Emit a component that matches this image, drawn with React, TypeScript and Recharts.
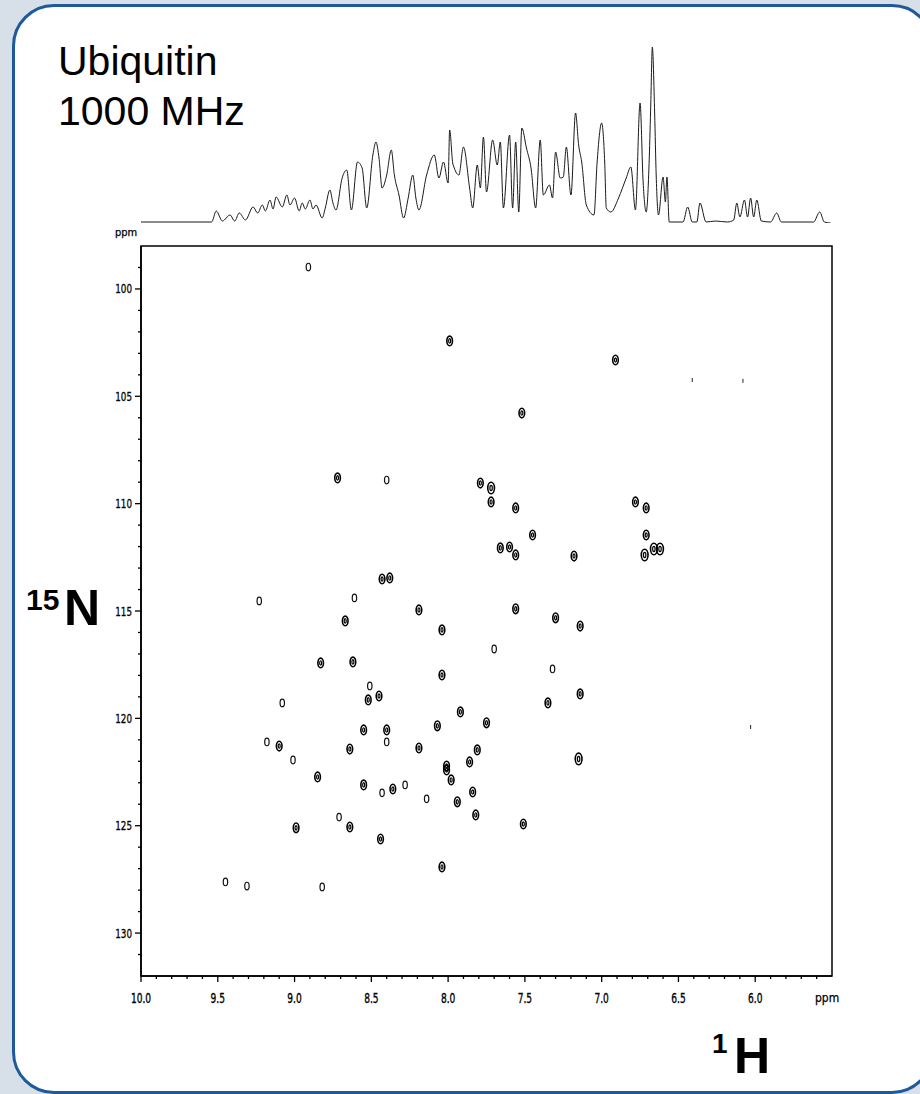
import { ScatterChart, Scatter, XAxis, YAxis, ReferenceArea, LineChart, Line } from 'recharts'

// 2D 1H-15N HSQC cross peaks (ppm)
const H_PPM = [
  8.91, 7.99, 6.91, 6.41, 6.08, 7.52, 8.72, 8.40, 7.79, 7.72,
  7.72, 7.56, 7.45, 7.66, 7.60, 7.56, 7.18, 6.78, 6.71, 6.71,
  6.72, 6.66, 6.62, 8.43, 8.38, 8.61, 9.23, 8.19, 8.67, 7.56,
  7.30, 7.14, 8.04, 7.70, 8.83, 8.62, 8.04, 7.32, 8.51, 8.52,
  8.45, 9.08, 7.14, 7.35, 7.92, 7.75, 8.07, 8.55, 8.40, 8.40,
  9.18, 9.10, 8.64, 8.19, 7.81, 9.01, 7.15, 8.01, 8.01, 7.86,
  7.98, 8.85, 8.55, 8.43, 8.36, 8.28, 7.84, 8.14, 7.94, 7.82,
  7.51, 8.71, 8.99, 8.64, 8.44, 8.04, 9.45, 9.31, 8.82, 6.03,
]
const N_PPM = [
  98.98, 102.42, 103.31, 104.24, 104.28, 105.78, 108.8, 108.9, 109.04, 109.27,
  109.92, 110.2, 111.46, 112.06, 112.02, 112.39, 112.44, 109.92, 110.2, 111.46,
  112.39, 112.11, 112.11, 113.51, 113.46, 114.39, 114.53, 114.95, 115.46, 114.9,
  115.32, 115.7, 115.88, 116.77, 117.42, 117.37, 117.98, 117.7, 118.49, 119.14,
  118.96, 119.28, 118.86, 119.28, 119.7, 120.21, 120.35, 120.54, 120.54, 121.1,
  121.1, 121.29, 121.43, 121.38, 121.47, 121.94, 121.89, 122.22, 122.4, 122.03,
  122.87, 122.73, 123.1, 123.47, 123.29, 123.1, 123.43, 123.75, 123.89, 124.5,
  124.92, 124.6, 125.1, 125.06, 125.62, 126.92, 127.62, 127.81, 127.85, 120.4,
]
// contour strength: 0 tiny, 1 weak, 2 normal, 3 strong
const PEAK_LEVEL = [
  1, 2, 2, 0, 0, 2, 2, 1, 2, 3,
  2, 2, 2, 2, 2, 2, 2, 2, 2, 2,
  3, 3, 3, 2, 2, 1, 1, 2, 2, 2,
  2, 2, 2, 1, 2, 2, 2, 1, 1, 2,
  2, 1, 2, 2, 2, 2, 2, 2, 2, 1,
  1, 2, 2, 2, 2, 1, 3, 2, 2, 2,
  2, 2, 2, 1, 2, 1, 2, 1, 2, 2,
  2, 1, 2, 2, 2, 2, 1, 1, 1, 0,
]

// 1D 1H projection on top
const SPEC_PPM = [
  10.0, 9.54, 9.51, 9.47, 9.42, 9.39, 9.36, 9.32, 9.27, 9.24,
  9.21, 9.19, 9.16, 9.14, 9.12, 9.08, 9.05, 9.03, 9.0, 8.97,
  8.95, 8.93, 8.9, 8.88, 8.86, 8.82, 8.8, 8.77, 8.75, 8.73,
  8.69, 8.66, 8.63, 8.59, 8.56, 8.53, 8.49, 8.47, 8.45, 8.43,
  8.4, 8.37, 8.35, 8.32, 8.29, 8.26, 8.23, 8.21, 8.19, 8.14,
  8.09, 8.06, 8.03, 8.0, 7.99, 7.97, 7.96, 7.93, 7.9, 7.86,
  7.84, 7.81, 7.79, 7.77, 7.75, 7.71, 7.68, 7.66, 7.64, 7.6,
  7.58, 7.56, 7.54, 7.52, 7.49, 7.46, 7.43, 7.4, 7.38, 7.34,
  7.32, 7.3, 7.27, 7.25, 7.23, 7.2, 7.17, 7.15, 7.13, 7.1,
  7.05, 7.03, 7.0, 6.98, 6.97, 6.94, 6.89, 6.84, 6.81, 6.78,
  6.75, 6.73, 6.71, 6.69, 6.68, 6.67, 6.655, 6.645, 6.63, 6.6,
  6.585, 6.575, 6.56, 6.47, 6.44, 6.41, 6.38, 6.36, 6.32, 6.26,
  6.18, 6.14, 6.12, 6.1, 6.07, 6.05, 6.03, 6.01, 5.99, 5.96,
  5.9, 5.86, 5.83, 5.62, 5.58, 5.55, 5.51,
]
const SPEC_INT = [
  1, 1, 12, 2, 8, 2, 10, 3, 16, 10,
  18, 12, 23, 14, 26, 16, 28, 18, 25, 12,
  20, 14, 23, 14, 18, 5, 15, 33, 20, 13,
  45, 53, 13, 61, 55, 15, 68, 81, 65, 35,
  48, 73, 48, 28, 5, 25, 48, 25, 13, 48,
  68, 45, 61, 40, 93, 60, 55, 48, 76, 35,
  15, 58, 35, 86, 31, 83, 58, 81, 15, 88,
  15, 81, 11, 95, 75, 55, 15, 83, 28, 38,
  25, 71, 45, 46, 76, 28, 110, 78, 61, 18,
  8, 60, 100, 60, 15, 11, 25, 45, 56, 13,
  120, 41, 11, 65, 120, 176, 110, 48, 8, 46,
  21, 46, 1, 1, 16, 1, 1, 20, 1, 2,
  1, 3, 20, 6, 23, 6, 25, 6, 23, 2,
  1, 10, 1, 1, 11, 1, 0,
]

const H_MAJOR = [10.0, 9.5, 9.0, 8.5, 8.0, 7.5, 7.0, 6.5, 6.0]
const N_MAJOR = [100, 105, 110, 115, 120, 125, 130]

const H_TICKS: number[] = []
for (let i = 0; i <= 44; i++) H_TICKS.push(Math.round((10 - i * 0.1) * 10) / 10)
const N_TICKS: number[] = []
for (let n = 99; n <= 131; n++) N_TICKS.push(n)

const peaks = H_PPM.map((h, i) => ({ h, n: N_PPM[i], level: PEAK_LEVEL[i] }))
const spectrum = SPEC_PPM.map((ppm, i) => ({ ppm, int: SPEC_INT[i] }))

const NARROW = '"Liberation Sans Narrow", "DejaVu Sans Condensed", "Arial Narrow", sans-serif'

function HTick(props: any) {
  const { x, y, payload } = props
  const v = payload.value
  const major = H_MAJOR.some((m) => Math.abs(m - v) < 1e-6)
  return (
    <g>
      <line x1={x} y1={y} x2={x} y2={y + (major ? 6 : 3)} stroke="#000" strokeWidth={1.3} />
      {major && (
        <text
          x={0}
          y={0}
          transform={`translate(${x},${y + 27}) scale(0.72,1)`}
          textAnchor="middle"
          fontSize={14}
          fontFamily={NARROW}
          fill="#000"
          stroke="#000"
          strokeWidth={0.35}
        >
          {v.toFixed(1)}
        </text>
      )}
    </g>
  )
}

function NTick(props: any) {
  const { x, y, payload } = props
  const v = payload.value
  const major = N_MAJOR.includes(v)
  return (
    <g>
      <line x1={x} y1={y} x2={x - (major ? 6 : 3)} y2={y} stroke="#000" strokeWidth={1.3} />
      {major && (
        <text
          x={0}
          y={0}
          transform={`translate(${x - 9},${y + 4.5}) scale(0.78,1)`}
          textAnchor="end"
          fontSize={12.5}
          fontFamily={NARROW}
          fill="#000"
          stroke="#000"
          strokeWidth={0.3}
        >
          {v}
        </text>
      )}
    </g>
  )
}

function PeakShape(props: any) {
  const { cx, cy, payload } = props
  const lv = payload.level
  if (lv === 0) {
    return <line x1={cx} y1={cy - 2} x2={cx} y2={cy + 2} stroke="#222" strokeWidth={1} />
  }
  if (lv === 1) {
    return <ellipse cx={cx} cy={cy} rx={2.2} ry={3.8} fill="none" stroke="#111" strokeWidth={1.2} />
  }
  const s = lv === 3 ? 1.2 : 1
  return (
    <g>
      <ellipse cx={cx} cy={cy} rx={2.8 * s} ry={4.8 * s} fill="none" stroke="#000" strokeWidth={1.6} />
      <ellipse cx={cx} cy={cy} rx={1 * s} ry={2.2 * s} fill="none" stroke="#000" strokeWidth={1.2} />
    </g>
  )
}

export default function App() {
  return (
    <div
      style={{
        position: 'absolute',
        left: 0,
        top: 0,
        width: 920,
        height: 1094,
        overflow: 'hidden',
        background: '#d7dfe8',
        fontFamily: '"Liberation Sans", Arial, sans-serif',
      }}
    >
      <div
        style={{
          position: 'absolute',
          left: 12,
          top: 4,
          width: 916,
          height: 1084,
          border: '3px solid #1e5a9b',
          borderRadius: 42,
          background: '#fff',
        }}
      />

      <div style={{ position: 'absolute', left: 141, top: 43 }}>
        <LineChart width={691} height={180} data={spectrum} margin={{ top: 0, right: 0, bottom: 0, left: 0 }}>
          <XAxis type="number" dataKey="ppm" domain={[5.5, 10]} reversed hide height={0} />
          <YAxis type="number" domain={[0, 180]} hide width={0} />
          <Line
            type="monotone"
            dataKey="int"
            stroke="#1a1a1a"
            strokeWidth={1}
            dot={false}
            isAnimationActive={false}
          />
        </LineChart>
      </div>

      <div style={{ position: 'absolute', left: 0, top: 0 }}>
        <ScatterChart width={920} height={1094} margin={{ top: 246, right: 88, bottom: 88, left: 101 }}>
          <XAxis
            type="number"
            dataKey="h"
            domain={[5.5, 10]}
            reversed
            ticks={H_TICKS}
            interval={0}
            tick={<HTick />}
            tickLine={false}
            tickSize={0}
            tickMargin={0}
            height={30}
            axisLine={{ stroke: '#000', strokeWidth: 1.6 }}
            allowDataOverflow
          />
          <YAxis
            type="number"
            dataKey="n"
            domain={[98, 132]}
            reversed
            ticks={N_TICKS}
            interval={0}
            tick={<NTick />}
            tickLine={false}
            tickSize={0}
            tickMargin={0}
            width={40}
            axisLine={{ stroke: '#000', strokeWidth: 1.6 }}
            allowDataOverflow
          />
          <ReferenceArea x1={10} x2={5.5} y1={98} y2={132} fill="none" stroke="#000" strokeWidth={1.5} />
          <Scatter data={peaks} shape={<PeakShape />} isAnimationActive={false} />
        </ScatterChart>
      </div>

      <svg width={920} height={1094} style={{ position: 'absolute', left: 0, top: 0, pointerEvents: 'none' }}>
        <text x={58} y={75} fontSize={41} fill="#000">Ubiquitin</text>
        <text x={58} y={125} fontSize={41} fill="#000">1000 MHz</text>
        <text x={115} y={236} fontSize={11} fontFamily={NARROW} fill="#000" stroke="#000" strokeWidth={0.25}>ppm</text>
        <text x={815} y={1002} fontSize={12} fontFamily={NARROW} fill="#000" stroke="#000" strokeWidth={0.25}>ppm</text>
        <text x={26} y={610} fontSize={30} fontWeight="bold" fill="#000">15</text>
        <text x={64} y={625} fontSize={50} fontWeight="bold" fill="#000">N</text>
        <text x={712} y={1053} fontSize={28} fontWeight="bold" fill="#000">1</text>
        <text x={734} y={1073} fontSize={50} fontWeight="bold" fill="#000">H</text>
      </svg>
    </div>
  )
}
